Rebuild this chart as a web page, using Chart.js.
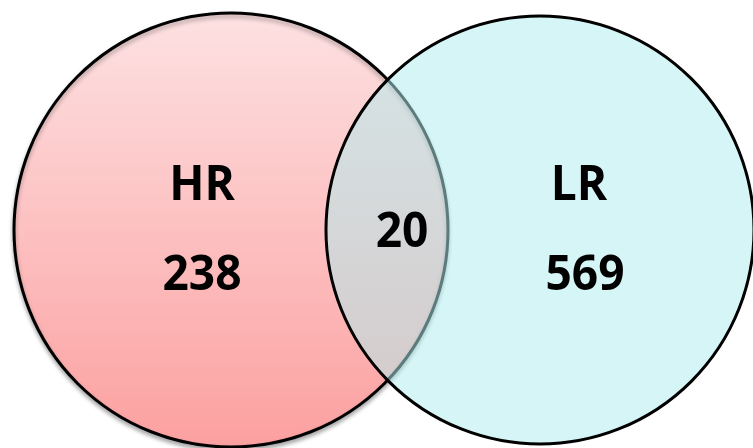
<!DOCTYPE html>
<html>
<head>
<meta charset="utf-8">
<script src="https://cdn.jsdelivr.net/npm/chart.js@4/dist/chart.umd.min.js"></script>
<style>
  html, body { margin: 0; padding: 0; background: #fff; }
  #wrap { width: 753px; height: 448px; position: relative; }
</style>
</head>
<body>
<div id="wrap"><canvas id="venn"></canvas></div>
<script>
// set names and counts
var setNames = ["HR", "LR"];
var onlyCounts = [238, 569];
var sharedCount = [20];

// circle layout (in scale units, 1 unit = 1px)
var circleX = [231, 540];
var circleY = [230, 230];
var circleR = [217, 214];

var labelFont = "bold 49px 'Open Sans', 'Noto Sans', sans-serif";

// bubbles would otherwise shrink the chart area to fit their radius
Chart.BubbleController.prototype.getMaxOverflow = function () { return 0; };

function leftFill(ctx) {
  const chart = ctx.chart;
  if (!chart.chartArea) return "#fdc8c8";
  const y = chart.scales.y;
  const g = chart.ctx.createLinearGradient(0, y.getPixelForValue(circleY[0] - circleR[0]), 0, y.getPixelForValue(circleY[0] + circleR[0]));
  g.addColorStop(0, "#fde1e2");
  g.addColorStop(1, "#fca0a0");
  return g;
}

// soft drop shadow under the left circle only
const shadowPlugin = {
  id: "shadow",
  beforeDatasetDraw(chart, args) {
    const c = chart.ctx;
    c.save();
    if (args.index === 1) {
      c.shadowColor = "rgba(0,0,0,0.3)";
      c.shadowBlur = 4;
      c.shadowOffsetX = 0;
      c.shadowOffsetY = 3;
    }
  },
  afterDatasetDraw(chart) {
    chart.ctx.restore();
  }
};

// text drawn a little narrower, like the original condensed bold face
function label(c, txt, x, y) {
  c.save();
  c.translate(x, y);
  c.scale(0.94, 1);
  c.fillText(txt, 0, 0);
  c.restore();
}

const labelPlugin = {
  id: "vennLabels",
  afterDatasetsDraw(chart) {
    const c = chart.ctx;
    const a = chart.getDatasetMeta(1).data[0];
    const b = chart.getDatasetMeta(0).data[0];
    c.save();
    c.fillStyle = "#000";
    c.font = labelFont;
    c.textAlign = "center";
    c.textBaseline = "middle";
    // left set
    label(c, setNames[0], a.x - 29, a.y - 44);
    label(c, String(onlyCounts[0]), a.x - 29, a.y + 46);
    // right set
    label(c, setNames[1], b.x + 39, b.y - 44);
    label(c, String(onlyCounts[1]), b.x + 45, b.y + 46);
    // overlap
    const ox = chart.scales.x.getPixelForValue((circleX[0] + circleR[0] + circleX[1] - circleR[1]) / 2) + 15;
    label(c, String(sharedCount[0]), ox, (a.y + b.y) / 2 + 3);
    c.restore();
  }
};

new Chart(document.getElementById("venn"), {
  type: "bubble",
  data: {
    datasets: [
      {
        label: setNames[1],
        data: [{ x: circleX[1], y: circleY[1], r: circleR[1] }],
        backgroundColor: "rgba(176,236,238,0.52)",
        borderColor: "#000",
        borderWidth: 3,
        hoverRadius: 0,
        clip: false,
        order: 0
      },
      {
        label: setNames[0],
        data: [{ x: circleX[0], y: circleY[0], r: circleR[0] }],
        backgroundColor: leftFill,
        borderColor: "#000",
        borderWidth: 3,
        hoverRadius: 0,
        clip: false,
        order: 1
      }
    ]
  },
  options: {
    responsive: true,
    maintainAspectRatio: false,
    animation: false,
    events: [],
    layout: { padding: 0 },
    plugins: {
      legend: { display: false },
      tooltip: { enabled: false }
    },
    scales: {
      x: { type: "linear", min: 0, max: 753, display: false },
      y: { type: "linear", min: 0, max: 448, reverse: true, display: false }
    }
  },
  plugins: [shadowPlugin, labelPlugin]
});
</script>
</body>
</html>
